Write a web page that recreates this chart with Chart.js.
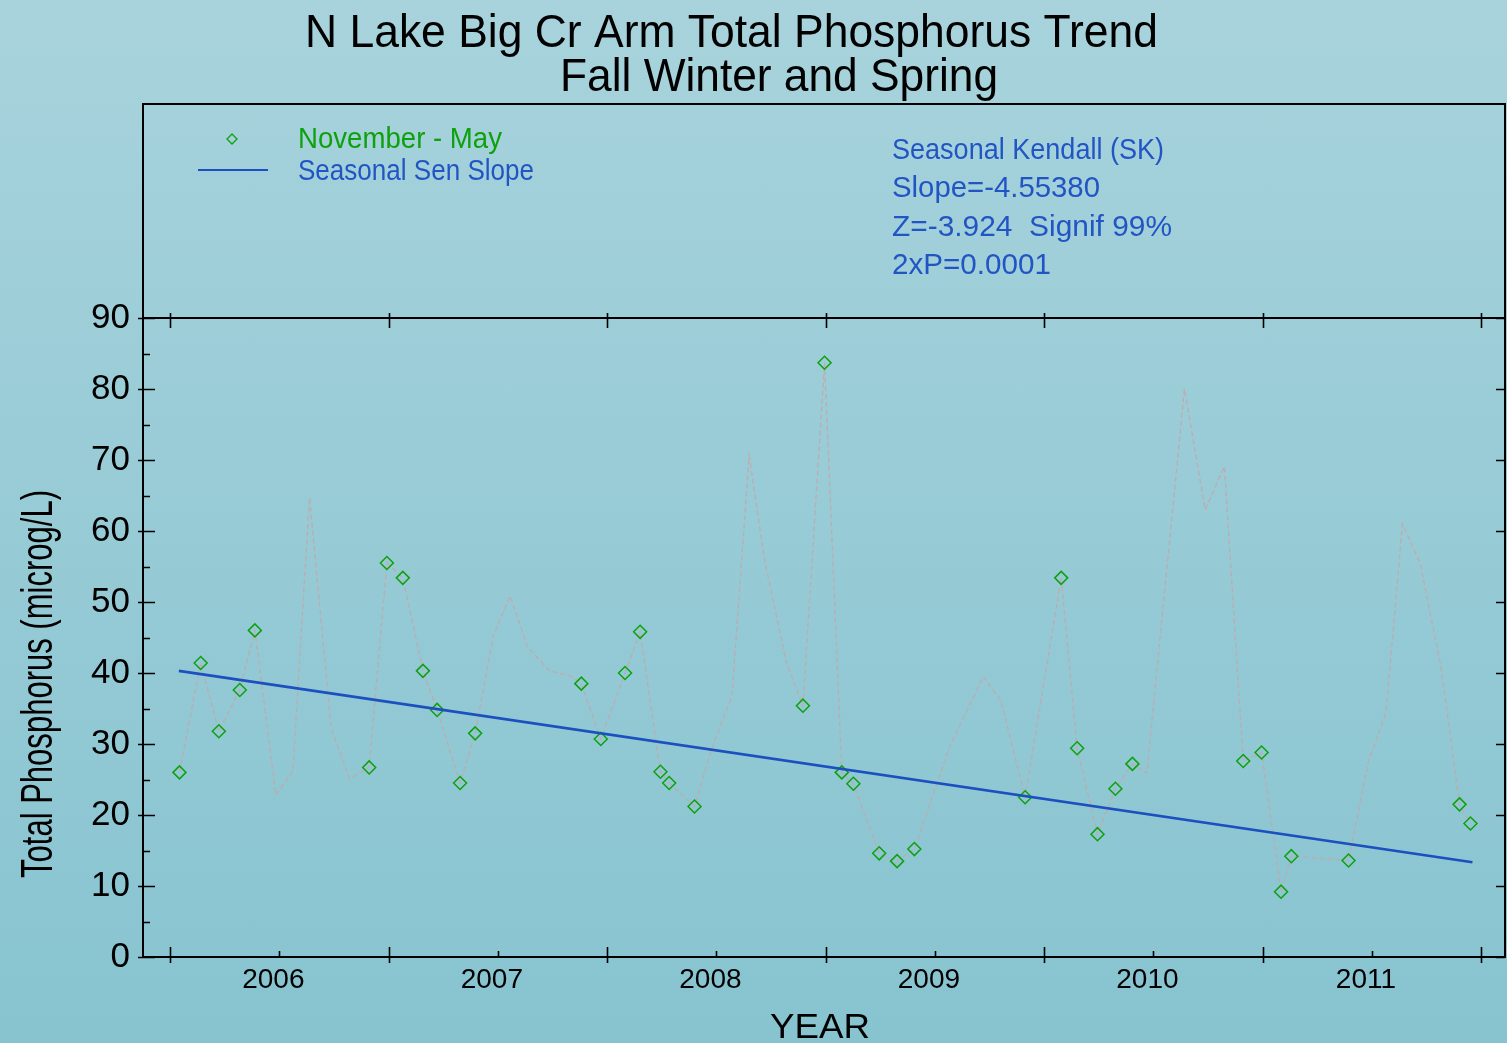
<!DOCTYPE html>
<html>
<head>
<meta charset="utf-8">
<script src="https://cdn.jsdelivr.net/npm/chart.js@4.4.1/dist/chart.umd.min.js"></script>
<style>
  html, body { margin: 0; padding: 0; }
  body { width: 1507px; height: 1043px; overflow: hidden;
         background: linear-gradient(to bottom, #a8d3dc 0%, #97cbd6 50%, #87c4d0 100%); }
  #c { display: block; }
</style>
</head>
<body>
<canvas id="c" width="1507" height="1043"></canvas>
<script>
// ---------------- DATA ----------------
// Sample dates as decimal years
const sampleYear = [
  2006.043, 2006.140, 2006.223, 2006.319, 2006.388, 2006.484, 2006.562, 2006.638, 2006.737, 2006.820,
  2006.911, 2006.992, 2007.065, 2007.157, 2007.222, 2007.327, 2007.396, 2007.480, 2007.556, 2007.635,
  2007.736, 2007.831, 2007.882, 2007.971, 2008.082, 2008.151, 2008.244, 2008.284, 2008.400, 2008.479,
  2008.571, 2008.650, 2008.719, 2008.819, 2008.896, 2008.995, 2009.074, 2009.127, 2009.245, 2009.327,
  2009.406, 2009.570, 2009.722, 2009.802, 2009.913, 2010.078, 2010.151, 2010.244, 2010.326, 2010.404,
  2010.470, 2010.642, 2010.737, 2010.825, 2010.911, 2010.995, 2011.084, 2011.131, 2011.393, 2011.484,
  2011.564, 2011.640, 2011.721, 2011.816, 2011.901, 2011.951
];
// Total phosphorus (microg/L)
const tpValue = [
  26.0, 41.4, 31.8, 37.6, 46.0, 22.8, 26.2, 64.7, 32.3, 25.1,
  26.7, 55.5, 53.4, 40.3, 34.8, 24.5, 31.5, 45.3, 50.9, 43.7,
  40.3, 39.6, 38.5, 30.7, 40.0, 45.8, 26.1, 24.5, 21.2, 29.4,
  36.7, 70.6, 56.2, 41.6, 35.4, 83.7, 26.0, 24.4, 14.6, 13.5,
  15.2, 29.8, 39.5, 36.1, 22.5, 53.4, 29.4, 17.3, 23.7, 27.2,
  25.9, 80.0, 63.0, 69.1, 27.6, 28.8, 9.2, 14.2, 13.6, 27.5,
  34.3, 61.0, 55.4, 40.8, 21.5, 18.8
];
// Season shown with markers: November - May (month index 0 = Jan)
const seasonMonths = [10, 11, 0, 1, 2, 3, 4];
// Seasonal Sen slope line end points
const trendYear  = [2006.04, 2011.96];
const trendValue = [40.3, 13.35];
// Axis
const yearLabels = ['2006', '2007', '2008', '2009', '2010', '2011'];
const yearBounds = [2006, 2007, 2008, 2009, 2010, 2011, 2012];
const xRange = [2005.876, 2012.109];
const yRange = [0, 90];
const yTicksMajor = [0, 10, 20, 30, 40, 50, 60, 70, 80, 90];
const yTicksMinor = [5, 15, 25, 35, 45, 55, 65, 75, 85];
// Texts
const titleLines = ['N Lake Big Cr Arm Total Phosphorus Trend', 'Fall Winter and Spring'];
const legendLabels = ['November - May', 'Seasonal Sen Slope'];
const statLines = ['Seasonal Kendall (SK)', 'Slope=-4.55380', 'Z=-3.924  Signif 99%', '2xP=0.0001'];
const xTitle = 'YEAR';
const yTitle = 'Total Phosphorus (microg/L)';

// ---------------- STYLE ----------------
const FONT = "'Liberation Sans', Arial, Helvetica, sans-serif";
const GREEN = '#0ea10e';
const BLUE = '#1c4fbf';
const TEXT_BLUE = '#2255c4';
const GRAY = 'rgba(192,170,172,0.95)';

Chart.defaults.font.family = FONT;

const allPts = sampleYear.map((x, i) => ({ x: x, y: tpValue[i] }));
const seasonPts = allPts.filter(p => {
  const m = Math.floor((p.x - Math.floor(p.x)) * 12);
  return seasonMonths.includes(m);
});
const trendPts = trendYear.map((x, i) => ({ x: x, y: trendValue[i] }));

function fitText(ctx, s, x, y, size, color, align, width, rotate) {
  ctx.save();
  ctx.font = size + 'px ' + FONT;
  ctx.fillStyle = color;
  ctx.textBaseline = 'alphabetic';
  ctx.textAlign = align;
  const w = ctx.measureText(s).width;
  const f = width ? width / w : 1;
  ctx.translate(x, y);
  if (rotate) ctx.rotate(rotate);
  ctx.scale(f, 1);
  ctx.fillText(s, 0, 0);
  ctx.restore();
}

// force the plot area to the reference rectangle
const areaPlugin = {
  id: 'area',
  afterLayout(chart) {
    const ca = chart.chartArea;
    const targetRight = 1505;
    const d = targetRight - ca.right;
    if (Math.abs(d) > 0.5) {
      ca.right = targetRight;
      ca.width = ca.right - ca.left;
      const xs = chart.scales.x;
      xs.right = targetRight;
      xs.width = xs.right - xs.left;
      xs.configure();
      const ys = chart.scales.y;
      ys.configure();
    }
  }
};

const decorPlugin = {
  id: 'decor',
  afterDraw(chart) {
    const ctx = chart.ctx;
    const ca = chart.chartArea;
    const xs = chart.scales.x, ys = chart.scales.y;
    const frameTop = 104;
    ctx.save();
    ctx.strokeStyle = '#000';
    ctx.lineWidth = 2;
    ctx.lineCap = 'butt';
    ctx.beginPath();
    ctx.moveTo(ca.left, frameTop); ctx.lineTo(ca.right, frameTop);
    ctx.moveTo(ca.left, frameTop - 1); ctx.lineTo(ca.left, ca.bottom);
    ctx.moveTo(ca.right, frameTop - 1); ctx.lineTo(ca.right, ca.bottom + 1);
    ctx.moveTo(ca.left, ca.top); ctx.lineTo(ca.right, ca.top);
    ctx.moveTo(ca.left, ca.bottom); ctx.lineTo(ca.right, ca.bottom);
    ctx.stroke();
    ctx.lineWidth = 1.6;
    ctx.beginPath();
    yearBounds.forEach(v => {
      const px = Math.round(xs.getPixelForValue(v)) + 0.5;
      ctx.moveTo(px, ca.bottom - 10); ctx.lineTo(px, ca.bottom + 6);
      ctx.moveTo(px, ca.top - 5); ctx.lineTo(px, ca.top + 10);
    });
    yearLabels.forEach((l, i) => {
      const px = Math.round(xs.getPixelForValue(yearBounds[i] + 0.5)) + 0.5;
      ctx.moveTo(px, ca.bottom - 6); ctx.lineTo(px, ca.bottom);
    });
    yTicksMajor.forEach(v => {
      const py = Math.round(ys.getPixelForValue(v)) + 0.5;
      ctx.moveTo(ca.left - 5, py); ctx.lineTo(ca.left + 12, py);
      ctx.moveTo(ca.right - 9, py); ctx.lineTo(ca.right, py);
    });
    yTicksMinor.forEach(v => {
      const py = Math.round(ys.getPixelForValue(v)) + 0.5;
      ctx.moveTo(ca.left, py); ctx.lineTo(ca.left + 7, py);
    });
    ctx.stroke();
    ctx.restore();

    fitText(ctx, titleLines[0], 731.5, 47, 46, '#000', 'center', 853);
    fitText(ctx, titleLines[1], 779, 91, 46, '#000', 'center', 438);

    ctx.save();
    ctx.strokeStyle = GREEN; ctx.lineWidth = 1.3;
    ctx.beginPath();
    ctx.moveTo(232, 134); ctx.lineTo(237, 139); ctx.lineTo(232, 144); ctx.lineTo(227, 139); ctx.closePath();
    ctx.stroke();
    ctx.strokeStyle = BLUE; ctx.lineWidth = 2;
    ctx.beginPath(); ctx.moveTo(198, 170); ctx.lineTo(268, 170); ctx.stroke();
    ctx.restore();
    fitText(ctx, legendLabels[0], 298, 148, 30, GREEN, 'left', 204);
    fitText(ctx, legendLabels[1], 298, 180, 30, TEXT_BLUE, 'left', 236);

    const statW = [272, 208, 280, 159];
    const statY = [159, 197, 236, 274];
    statLines.forEach((s, i) => fitText(ctx, s, 892, statY[i], 30, TEXT_BLUE, 'left', statW[i]));

    fitText(ctx, xTitle, 820, 1038, 35, '#000', 'center', 100);
    fitText(ctx, yTitle, 52, 684, 44, '#000', 'center', 388, -Math.PI / 2);
  }
};

new Chart(document.getElementById('c'), {
  type: 'scatter',
  data: {
    datasets: [
      {
        label: legendLabels[1],
        data: trendPts,
        showLine: true,
        borderColor: BLUE,
        borderWidth: 2.6,
        pointRadius: 0,
        fill: false,
        order: 1
      },
      {
        label: legendLabels[0],
        data: seasonPts,
        showLine: false,
        pointStyle: 'rectRot',
        pointRadius: 6.5,
        pointBorderColor: GREEN,
        pointBackgroundColor: 'rgba(0,0,0,0)',
        pointBorderWidth: 1.5,
        order: 2
      },
      {
        label: 'All samples',
        data: allPts,
        showLine: true,
        borderColor: GRAY,
        borderWidth: 1.3,
        borderDash: [5, 3],
        pointRadius: 0,
        fill: false,
        order: 3
      }
    ]
  },
  options: {
    responsive: false,
    animation: false,
    devicePixelRatio: 1,
    layout: { padding: { top: 318, right: 2, left: 0, bottom: 0 } },
    plugins: {
      legend: { display: false },
      title: { display: false },
      tooltip: { enabled: false }
    },
    scales: {
      x: {
        type: 'linear',
        position: 'bottom',
        min: xRange[0],
        max: xRange[1],
        grid: { display: false, drawTicks: false },
        border: { display: false },
        afterBuildTicks: (scale) => {
          scale.ticks = yearLabels.map((l, i) => ({ value: yearBounds[i] + 0.5 }));
        },
        ticks: {
          autoSkip: false,
          maxRotation: 0,
          padding: 6,
          labelOffset: -6,
          color: '#000',
          font: { size: 28 },
          callback: (v, i) => yearLabels[i]
        },
        afterFit: (scale) => { scale.height = 86; }
      },
      y: {
        type: 'linear',
        min: yRange[0],
        max: yRange[1],
        grid: { display: false, drawTicks: false },
        border: { display: false },
        ticks: {
          stepSize: 10,
          padding: 13,
          color: '#000',
          font: { size: 35 }
        },
        afterFit: (scale) => { scale.width = 143; }
      }
    }
  },
  plugins: [areaPlugin, decorPlugin]
});
</script>
</body>
</html>
